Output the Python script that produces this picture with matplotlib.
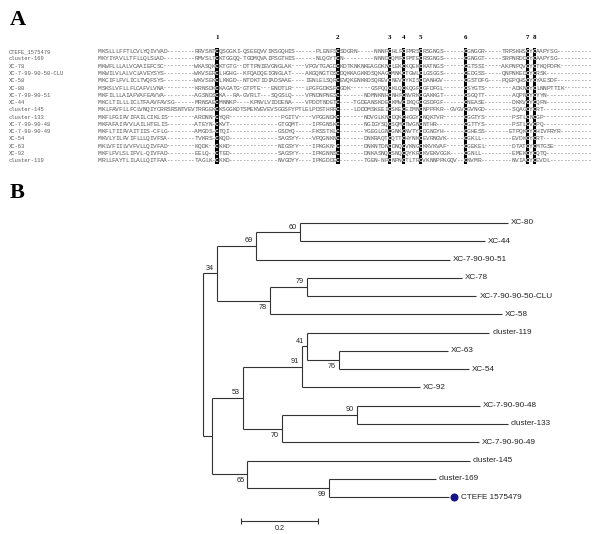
import matplotlib
matplotlib.use("Agg")
import matplotlib.pyplot as plt

# ---- Panel A: alignment ----
seq_names = ["CTEFE_1575479", "cluster-169", "XC-78", "XC-7-90-90-50-CLU", "XC-58",
             "XC-80", "XC-7-90-90-51", "XC-44", "cluster-145", "cluster-133",
             "XC-7-90-90-48", "XC-7-90-90-49", "XC-54", "XC-63", "XC-92", "cluster-119"]

sequences = [
    "MKSLLLFFTLCVLYQIVVAD--------RRVSNTCQSGGKI-QSEEQVVIKSGQHIS------PLENFSCSDGRN-----NNNPCHLFCFMRSCRSGNGS------CGNGGR-----TRPSKHSCYCAAPYSG----------",
    "MKYIYAVLLTFLLQLSLAD---------RMVSLTCKTGGQQ-TGDMQVAIPSGTHIS------NLQGYTCN---------NNNDCQMFCFMTECRSGNGS------CGNGGT-----SRPNRDDCYCAAPYSG----------",
    "MKWFLLLALVCAAIEFCSC---------WKASQKCKTGTG--DTTPNIEVGNGLAK----VPGVTGAGDCKDTKNKNKEAGDKNCLEKCKQEKCKATNGS------CGTSSI-----AKPNPQVCYCTKQPDPK---------",
    "MKWILVLALVCLAVEYSYS---------WKVSERCLHGHG--KFQADQEIGNGLAT----AKGQNGTDSCDQKKAGKKDSQKAGCMNKCTGWLCLGSGGS------CEDGSS-----QNPNKEDCYCRSK-------------",
    "MKCIFLFVLICLTVQFSYS---------WKVSEKCLKKGD--NTDKTIDIADSAAE----IENLELSQRCEVQKENKKDSQREVCNEVCYKISCDANHGV------CGSTDFG----PQEPQHSCYCYAESDF----------",
    "MSKSLVFLLFLCAFVLVNA---------KRNSDKCKAGATG-GTPTE---ENDTLR----LPGFGDKSPCGDK------GSPQQCKLQCKQGFCGFDFGL------CSYGTS--------ADKNCYCLNNPTTIK--------",
    "MKFILLLAIAFVAFEAVVA---------AGSNDSCKA--RA-GVRLT---SQGSLQ----VPNDNPNESC-------NDMNKNHCNHFCNVRKCGAKKGT------CSGQTT--------AQPNCYCYYN-------------",
    "MKCLTILLLICLTFAAVFAVSG------MRNSAECMNNKP----KPNVLVIDDENA----VPDDTNDETC----TGDEANSKDECKMWCIKQGCGSDFGF------CNEASE--------DKKVCYCQFN-------------",
    "MKLFAVFLLFCLVNQIYCRRSRSNTVEVTRRGEKCKSGGKDTSMEKVEVEVSGGSFYPTLELPDSTHRRC----LDDDMSKEEICSKECEIMNCNPPFKR--GVGVCGVNGD--------SQAGCYCRT--------------",
    "MKFLFGIFVIFAILCIKLIS--------ARDNN-CYQR---------------PGITV----VPGGNDKC-------NDVGLKNCDQKCHGGYCNQKTVR------CGGTYS--------PSTLCNCGP--------------",
    "MKFAFAIFVVLAILHTELIS--------ATEYN-CKVT--------------GTGQMT----IPFGNSKC-------NGIGYSQCSQMCTWGNCNTHR--------CGTTYS--------PSTLCVCPQ--------------",
    "MKFLTIIFVAITIIS-CFLG--------AMGDS-CTQI--------------GSDYQ-----FKSSTKLC-------YGEGLGNCGNKCNVTYCDGNGYH------CGHESS-------ETPQKCYCHIVFRYR---------",
    "MKVLYILFVIFLLLQIVFSA--------TVKRS-CKQD--------------SAGSYY----VPQGNKNC-------DNKRAQTCQTTCHYNKCEVRNGVK-----CGKLL---------EVDKCYCRT--------------",
    "MKLVFIILVVFVLLQIVFAD--------KQDK--CKKD--------------NIGSYY----IPKGKN-C-------DNKNTDNCDNQCVKNGCKKVKVAF-----CGEKEL--------DTATCYCMTGSE-----------",
    "MKFLFVLSLIFVL-QIVFAD--------EELQ--CTED--------------SAGSYY----IPKGNNSC-------DNKASNQCSNQCQYKRCKVEKVGGK----CGNLL---------EMEKCYCQTQ-------------",
    "MRLLFAYTLILALLQITFAA--------TAGLK-CKKD--------------NVGDYY----IPKGDDEC-------TGEN-NPCNPNCTLTRCVKNNPPKGQV--CNVMR---------NVIACYCEVDL------------",
]

# ---- Panel B: tree (parent list, branch lengths, bootstrap) ----
tree_nodes = ["root", "n34", "n69", "n60", "XC-80", "XC-44", "XC-7-90-90-51",
              "n78", "n79", "XC-78", "XC-7-90-90-50-CLU", "XC-58",
              "nU", "n53", "n91", "n41", "cluster-119", "n76", "XC-63", "XC-54", "XC-92",
              "n70", "n90", "XC-7-90-90-48", "cluster-133", "XC-7-90-90-49",
              "n65", "cluster-145", "n99", "cluster-169", "CTEFE 1575479"]
tree_parent = [None, "root", "n34", "n69", "n60", "n60", "n69",
               "n34", "n78", "n79", "n79", "n78",
               "root", "nU", "n53", "n91", "n41", "n41", "n76", "n76", "n91",
               "n53", "n70", "n90", "n90", "n70",
               "nU", "n65", "n65", "n99", "n99"]
branch_len = [0.0, 0.036, 0.101, 0.114, 0.542, 0.482, 0.505,
              0.137, 0.097, 0.403, 0.440, 0.604,
              0.023, 0.081, 0.153, 0.013, 0.474, 0.082, 0.284, 0.338, 0.307,
              0.101, 0.195, 0.320, 0.391, 0.512,
              0.092, 0.578, 0.212, 0.277, 0.312]
bootstrap = {"n34": 34, "n69": 69, "n60": 60, "n78": 78, "n79": 79, "n53": 53,
             "n91": 91, "n41": 41, "n76": 76, "n70": 70, "n90": 90, "n65": 65, "n99": 99}
marked_tip = "CTEFE 1575479"
scale_len = 0.2

W, H = 600, 534
fig = plt.figure(figsize=(W / 100, H / 100), dpi=100)

# ---------- panel A ----------
col_w, seq_x0 = 3.45, 98.0
row_h, row_y0 = 7.27, 51.7
ax_a = fig.add_axes([0, 0, 1, 1])
ax_a.set_xlim(-seq_x0 / col_w, (W - seq_x0) / col_w)
ax_a.set_ylim((H - row_y0) / row_h, -row_y0 / row_h)
ax_a.axis("off")

n_cols = max(len(s) for s in sequences)
rows = [s.ljust(n_cols, "-") for s in sequences]
# conserved cysteines -> highlighted columns
cys_cols = [c for c in range(n_cols) if all(r[c] == "C" for r in rows)]

ax_a.bar([c + 0.5 for c in cys_cols], [len(rows)] * len(cys_cols), bottom=-0.5,
         width=1.05, color="black", zorder=1)

mono = "Liberation Mono"
for r, (name, seq) in enumerate(zip(seq_names, rows)):
    ax_a.text((9 - seq_x0) / col_w, r, name, fontsize=4.0, family=mono,
              color="#5a5a5a", ha="left", va="center")
    for c, ch in enumerate(seq):
        hl = c in cys_cols
        ax_a.text(c + 0.5, r, ch, fontsize=4.5, family=mono,
                  color="white" if hl else "#5a5a5a", ha="center", va="center",
                  fontweight="bold" if hl else "normal", zorder=2)

for k, c in enumerate(cys_cols):
    ax_a.text(c + 0.5, -2.0, str(k + 1), fontsize=5, family="Liberation Serif",
              fontweight="bold", ha="center", va="center")

fig.text(10 / W, 1 - 20 / H, "A", fontsize=16, family="Liberation Serif",
         fontweight="bold", ha="left", va="center")
fig.text(10 / W, 1 - 193 / H, "B", fontsize=16, family="Liberation Serif",
         fontweight="bold", ha="left", va="center")

# ---------- panel B ----------
root_px, px_per_unit = 203.0, 385.0
tip_y0, tip_dy = 223.0, 18.27
ax_b = fig.add_axes([0, 0, 1, 1])
ax_b.set_xlim(-root_px / px_per_unit, (W - root_px) / px_per_unit)
ax_b.set_ylim((H - tip_y0) / tip_dy, -tip_y0 / tip_dy)
ax_b.axis("off")

children = {n: [] for n in tree_nodes}
for n, p in zip(tree_nodes, tree_parent):
    if p is not None:
        children[p].append(n)

xpos, ypos = {}, {}
for n, p, bl in zip(tree_nodes, tree_parent, branch_len):
    xpos[n] = bl if p is None else xpos[p] + bl

tips = [n for n in tree_nodes if not children[n]]
for i, t in enumerate(tips):
    ypos[t] = i
for n in reversed(tree_nodes):
    if children[n]:
        ys = [ypos[c] for c in children[n]]
        ypos[n] = (min(ys) + max(ys)) / 2

line_kw = dict(color="#333333", lw=0.8, solid_capstyle="butt")
for n, p in zip(tree_nodes, tree_parent):
    if children[n]:
        ys = [ypos[c] for c in children[n]]
        ax_b.plot([xpos[n], xpos[n]], [min(ys), max(ys)], **line_kw)
    if p is not None:
        ax_b.plot([xpos[p], xpos[n]], [ypos[n], ypos[n]], **line_kw)

px = 1.0 / px_per_unit
for t in tips:
    dx = 3 * px
    if t == marked_tip:
        ax_b.plot(xpos[t] + 4.5 * px, ypos[t], "o", color="#141488", ms=4.8, zorder=3)
        dx = 11.5 * px
    ax_b.text(xpos[t] + dx, ypos[t], t, fontsize=5.9, family="Liberation Sans",
              color="#222222", ha="left", va="center")

for n, val in bootstrap.items():
    p = tree_parent[tree_nodes.index(n)]
    above = children[p][0] == n
    off = -5.0 / tip_dy if above else 6.5 / tip_dy
    ax_b.text(xpos[n] - 3 * px, ypos[n] + off, str(val), fontsize=5.2,
              family="Liberation Sans", color="#222222", ha="right", va="center")

# scale bar
sb_x0, sb_y = 38 * px, (521 - tip_y0) / tip_dy
cap = 3.0 / tip_dy
ax_b.plot([sb_x0, sb_x0 + scale_len], [sb_y, sb_y], **line_kw)
for xx in (sb_x0, sb_x0 + scale_len):
    ax_b.plot([xx, xx], [sb_y - cap, sb_y + cap], **line_kw)
ax_b.text(sb_x0 + scale_len / 2, sb_y + 7.5 / tip_dy, str(scale_len), fontsize=5.2,
          family="Liberation Sans", color="#222222", ha="center", va="center")

fig.savefig("out.png", dpi=100, facecolor="white")
